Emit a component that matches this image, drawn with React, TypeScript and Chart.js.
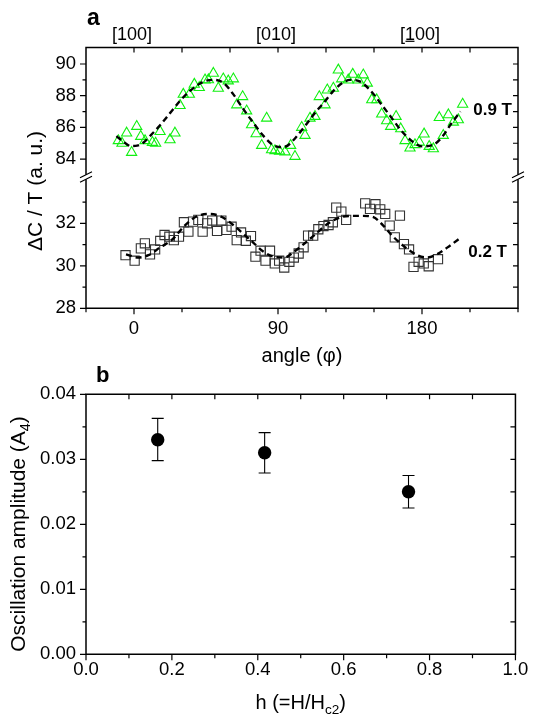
import React, { useEffect, useRef } from 'react';
import { Chart, registerables } from 'chart.js';

Chart.register(...registerables);

const FONT = "'Liberation Sans', Arial, Helvetica, sans-serif";
Chart.defaults.font.family = FONT;
Chart.defaults.color = '#000';

// ---------- Panel a data ----------
const ANGLE_09 = [-9.8, -7.5, -4.6, -1.5, 1.7, 4.2, 6.9, 11.5, 13.5, 16.3, 22.5, 25.6, 28.8, 30.8, 34.6, 37.7, 40.8, 44.4, 46.5, 49.6, 52.7, 55.8, 58.9, 62.1, 64.2, 67.9, 70.4, 73.5, 76.3, 79.8, 82.9, 86.0, 88.1, 91.0, 94.4, 97.9, 100.6, 104.8, 106.9, 110.0, 113.1, 115.8, 119.4, 120.8, 124.6, 127.7, 129.8, 133.9, 136.7, 140.2, 143.3, 145.8, 148.6, 151.7, 154.8, 157.9, 160.4, 163.8, 166.7, 169.4, 172.5, 175.6, 178.3, 181.3, 184.5, 187.1, 190.8, 193.3, 196.5, 199.6, 202.7, 205.4];
const DC_09 = [85.16, 85.0, 85.64, 84.42, 86.06, 85.43, 85.16, 85.05, 85.0, 85.74, 85.22, 85.64, 87.38, 88.09, 88.09, 88.72, 88.51, 88.99, 89.0, 89.41, 88.47, 89.06, 88.93, 89.06, 87.42, 87.94, 87.04, 86.16, 85.6, 84.86, 86.58, 84.59, 84.53, 84.5, 84.45, 84.86, 84.17, 86.0, 85.49, 86.58, 86.69, 87.94, 87.42, 88.36, 88.47, 89.62, 89.06, 88.99, 89.35, 88.99, 89.31, 88.79, 87.74, 87.74, 86.84, 86.42, 86.06, 86.69, 85.91, 85.16, 84.7, 84.91, 85.07, 85.58, 84.8, 84.65, 86.62, 85.49, 86.79, 86.33, 86.48, 87.46];

const ANGLE_02 = [-5.3, 0.4, 4.3, 6.8, 10.0, 13.2, 16.4, 19.1, 22.1, 24.9, 28.1, 31.2, 34.0, 36.9, 40.2, 42.9, 45.7, 48.9, 51.9, 54.6, 57.8, 61.0, 64.2, 66.9, 69.9, 73.1, 75.9, 79.1, 82.2, 85.0, 88.0, 90.7, 93.9, 97.1, 99.9, 102.9, 106.0, 108.8, 112.0, 115.2, 118.4, 121.6, 124.3, 126.4, 129.6, 132.6, 144.5, 147.5, 150.9, 153.9, 157.0, 159.8, 163.0, 166.2, 168.7, 171.9, 174.7, 177.9, 181.1, 184.2, 190.0];
const DC_02 = [30.5, 30.24, 30.82, 31.06, 30.54, 30.77, 31.17, 31.45, 31.37, 31.21, 31.37, 32.05, 31.61, 32.08, 32.16, 31.61, 32.0, 32.13, 31.64, 32.13, 31.69, 31.84, 31.21, 31.57, 31.18, 31.4, 30.43, 30.71, 30.24, 30.71, 30.11, 30.24, 29.92, 30.19, 30.39, 30.58, 30.87, 31.42, 31.42, 31.72, 31.87, 31.92, 32.05, 32.74, 32.55, 32.16, 32.94, 32.68, 32.9, 32.66, 32.44, 31.89, 31.34, 32.36, 31.02, 30.77, 29.95, 30.19, 30.11, 29.98, 30.31];

const FIT_ANGLE_09 = [-11, -6, -2, 2, 6, 10, 16, 22.5, 29, 35, 41, 46, 50, 56, 62, 68, 74.5, 81, 87, 92, 96, 101, 107, 113, 119, 125.5, 131, 135, 141, 147.5, 155, 161, 167, 173.5, 180, 187, 193, 198, 204];
const FIT_09 = [85.45, 85.05, 84.82, 84.85, 85.05, 85.45, 86.1, 86.9, 87.7, 88.3, 88.75, 88.97, 89.0, 88.8, 88.1, 87.2, 86.3, 85.45, 84.88, 84.75, 84.85, 85.35, 86.1, 86.9, 87.6, 88.4, 88.85, 89.0, 88.9, 88.36, 87.4, 86.6, 85.8, 85.15, 84.8, 84.9, 85.45, 86.2, 87.0];

const FIT_ANGLE_02 = [-5, 2.5, 9, 16.4, 24, 31, 38.7, 47, 54.6, 62, 68.4, 75, 81, 87.5, 94, 100, 106.7, 114, 121.5, 129, 136.4, 143, 149, 155.5, 162, 169, 177, 183, 189.5, 198, 204.4];
const FIT_02 = [30.54, 30.39, 30.5, 30.87, 31.24, 31.84, 32.31, 32.44, 32.31, 31.92, 31.5, 31.06, 30.66, 30.43, 30.39, 30.66, 31.06, 31.53, 32.0, 32.28, 32.35, 32.35, 32.31, 31.92, 31.37, 30.9, 30.5, 30.39, 30.55, 30.98, 31.34];

const X_TICKS_A = [0, 90, 180];
const X_MINOR_A = [-30, 30, 60, 120, 150, 210, 240];
const X_TOP_TICKS_A = [0, 30, 60, 90, 120, 150, 180, 210];
const TOP_LABEL_ANGLES = [0, 90, 180];
const TOP_LABELS = ['[100]', '[010]', '[100]'];
const Y_TOP_MAJOR = [84, 86, 88, 90];
const Y_TOP_MINOR = [85, 87, 89];
const Y_BOT_MAJOR = [28, 30, 32];
const Y_BOT_MINOR = [29, 31, 33];

// ---------- Panel b data ----------
const H_VALUES = [0.167, 0.416, 0.751];
const AMP = [0.033, 0.031, 0.025];
const AMP_LOW = [0.0298, 0.0279, 0.0225];
const AMP_HIGH = [0.0363, 0.0341, 0.0275];
const X_TICKS_B = [0, 0.2, 0.4, 0.6, 0.8, 1.0];
const X_MINOR_B = [0.1, 0.3, 0.5, 0.7, 0.9];
const Y_TICKS_B = [0, 0.01, 0.02, 0.03, 0.04];
const Y_MINOR_B = [0.005, 0.015, 0.025, 0.035];

const pts = (xs: number[], ys: number[]) => xs.map((x, i) => ({ x, y: ys[i] }));

function vTicks(ctx: CanvasRenderingContext2D, scale: any, values: number[], x: number, len: number) {
  for (const v of values) {
    const y = scale.getPixelForValue(v);
    ctx.moveTo(x, y);
    ctx.lineTo(x + len, y);
  }
}
function hTicks(ctx: CanvasRenderingContext2D, scale: any, values: number[], y: number, len: number) {
  for (const v of values) {
    const x = scale.getPixelForValue(v);
    ctx.moveTo(x, y);
    ctx.lineTo(x, y + len);
  }
}

type Part = { t: string; sub?: boolean };
function drawRich(ctx: CanvasRenderingContext2D, parts: Part[], tx: number, ty: number, size: number, rotate: boolean) {
  ctx.save();
  ctx.translate(tx, ty);
  if (rotate) ctx.rotate(-Math.PI / 2);
  const main = `${size}px ${FONT}`;
  const subf = `${size * 0.68}px ${FONT}`;
  let total = 0;
  const widths = parts.map((p) => {
    ctx.font = p.sub ? subf : main;
    const w = ctx.measureText(p.t).width;
    total += w;
    return w;
  });
  let x = -total / 2;
  ctx.textAlign = 'left';
  ctx.textBaseline = 'alphabetic';
  ctx.fillStyle = '#000';
  parts.forEach((p, i) => {
    ctx.font = p.sub ? subf : main;
    ctx.fillText(p.t, x, p.sub ? size * 0.25 : 0);
    x += widths[i];
  });
  ctx.restore();
}

const panelAPlugin = {
  id: 'panelA',
  afterDraw(chart: any) {
    const { ctx, chartArea: ca, scales } = chart;
    const x = scales.x;
    const yT = scales.yTop;
    const yB = scales.yBot;
    const breakY = (yT.bottom + yB.top) / 2;
    ctx.save();
    ctx.strokeStyle = '#000';
    ctx.lineWidth = 1.5;
    ctx.lineCap = 'square';
    ctx.beginPath();
    ctx.moveTo(ca.left, ca.top);
    ctx.lineTo(ca.right, ca.top);
    ctx.moveTo(ca.left, ca.bottom);
    ctx.lineTo(ca.right, ca.bottom);
    for (const xx of [ca.left, ca.right]) {
      ctx.moveTo(xx, ca.top);
      ctx.lineTo(xx, breakY - 3);
      ctx.moveTo(xx, breakY + 3);
      ctx.lineTo(xx, ca.bottom);
    }
    ctx.stroke();
    ctx.lineCap = 'butt';
    ctx.lineWidth = 1.2;
    ctx.beginPath();
    for (const xx of [ca.left, ca.right]) {
      for (const d of [-2.2, 2.2]) {
        ctx.moveTo(xx - 6, breakY + d + 3);
        ctx.lineTo(xx + 6, breakY + d - 3);
      }
    }
    ctx.stroke();
    ctx.lineWidth = 1.2;
    ctx.beginPath();
    vTicks(ctx, yT, Y_TOP_MAJOR, ca.left, -6);
    vTicks(ctx, yT, Y_TOP_MINOR, ca.left, -3.5);
    vTicks(ctx, yB, Y_BOT_MAJOR, ca.left, -6);
    vTicks(ctx, yB, Y_BOT_MINOR, ca.left, -3.5);
    vTicks(ctx, yT, [...Y_TOP_MAJOR, ...Y_TOP_MINOR], ca.right, -5);
    vTicks(ctx, yB, [30, 32, ...Y_BOT_MINOR], ca.right, -5);
    hTicks(ctx, x, X_TICKS_A, ca.bottom, 6);
    hTicks(ctx, x, X_MINOR_A, ca.bottom, 4);
    hTicks(ctx, x, X_TOP_TICKS_A, ca.top, 5);
    ctx.stroke();

    // top direction labels
    ctx.fillStyle = '#000';
    ctx.font = `18px ${FONT}`;
    ctx.textBaseline = 'alphabetic';
    ctx.textAlign = 'left';
    TOP_LABELS.forEach((lab, i) => {
      const cx = x.getPixelForValue(TOP_LABEL_ANGLES[i]) - 2;
      const w = ctx.measureText(lab).width;
      const sx = cx - w / 2;
      const by = 39.5;
      ctx.fillText(lab, sx, by);
      if (i === 2) {
        const wb = ctx.measureText('[').width;
        const w1 = ctx.measureText('1').width;
        ctx.beginPath();
        ctx.lineWidth = 1.2;
        ctx.moveTo(sx + wb + 0.5, by + 1.8);
        ctx.lineTo(sx + wb + w1 - 0.5, by + 1.8);
        ctx.stroke();
      }
    });

    // panel letter
    ctx.font = `bold 23px ${FONT}`;
    ctx.fillText('a', 87, 25);

    // field labels
    ctx.font = `bold 17px ${FONT}`;
    ctx.textAlign = 'right';
    ctx.textBaseline = 'middle';
    ctx.fillText('0.9 T', ca.right - 6, 110);
    ctx.fillText('0.2 T', ca.right - 11, 252);

    ctx.restore();

    drawRich(ctx, [{ t: '\u0394C / T (a. u.)' }], 42, 191, 21, true);
    drawRich(ctx, [{ t: 'angle (\u03c6)' }], (ca.left + ca.right) / 2, 361.5, 20, false);
  },
};

const panelBPlugin = {
  id: 'panelB',
  beforeDatasetsDraw(chart: any) {
    const { ctx, scales } = chart;
    const x = scales.x;
    const y = scales.y;
    ctx.save();
    ctx.strokeStyle = '#000';
    ctx.lineWidth = 1.1;
    ctx.beginPath();
    H_VALUES.forEach((h, i) => {
      const px = x.getPixelForValue(h);
      const y0 = y.getPixelForValue(AMP_LOW[i]);
      const y1 = y.getPixelForValue(AMP_HIGH[i]);
      ctx.moveTo(px, y0);
      ctx.lineTo(px, y1);
      ctx.moveTo(px - 6, y0);
      ctx.lineTo(px + 6, y0);
      ctx.moveTo(px - 6, y1);
      ctx.lineTo(px + 6, y1);
    });
    ctx.stroke();
    ctx.restore();
  },
  afterDraw(chart: any) {
    const { ctx, chartArea: ca, scales } = chart;
    const x = scales.x;
    const y = scales.y;
    ctx.save();
    ctx.strokeStyle = '#000';
    ctx.lineWidth = 1.5;
    ctx.lineCap = 'square';
    ctx.beginPath();
    ctx.rect(ca.left, ca.top, ca.right - ca.left, ca.bottom - ca.top);
    ctx.stroke();
    ctx.lineCap = 'butt';
    ctx.lineWidth = 1.2;
    ctx.beginPath();
    vTicks(ctx, y, Y_TICKS_B, ca.left, -6);
    vTicks(ctx, y, Y_MINOR_B, ca.left, -3.5);
    vTicks(ctx, y, [0.01, 0.02, 0.03, ...Y_MINOR_B], ca.right, -5);
    hTicks(ctx, x, X_TICKS_B, ca.bottom, 6);
    hTicks(ctx, x, X_MINOR_B, ca.bottom, 4);
    hTicks(ctx, x, [0.2, 0.4, 0.6, 0.8, ...X_MINOR_B], ca.top, 5);
    ctx.stroke();

    ctx.fillStyle = '#000';
    ctx.font = `bold 22px ${FONT}`;
    ctx.textAlign = 'left';
    ctx.textBaseline = 'alphabetic';
    ctx.fillText('b', 96, 19.7);
    ctx.restore();

    drawRich(
      ctx,
      [{ t: 'Oscillation amplitude (A' }, { t: '4', sub: true }, { t: ')' }],
      24.5,
      172,
      21,
      true
    );
    drawRich(ctx, [{ t: 'h (=H/H' }, { t: 'c2', sub: true }, { t: ')' }], (ca.left + ca.right) / 2, 346.5, 20, false);
  },
};

const H_A = 372;
const H_B = 357;

export default function App() {
  const refA = useRef<HTMLCanvasElement>(null);
  const refB = useRef<HTMLCanvasElement>(null);

  useEffect(() => {
    const tickFont = { size: 18.5, family: FONT };
    const chartA = new Chart(refA.current as HTMLCanvasElement, {
      type: 'scatter',
      data: {
        datasets: [
          {
            data: pts(FIT_ANGLE_09, FIT_09),
            yAxisID: 'yTop',
            showLine: true,
            borderColor: '#000',
            borderWidth: 2.4,
            borderDash: [6, 4],
            pointRadius: 0,
            cubicInterpolationMode: 'monotone',
          },
          {
            data: pts(FIT_ANGLE_02, FIT_02),
            yAxisID: 'yBot',
            showLine: true,
            borderColor: '#000',
            borderWidth: 2.4,
            borderDash: [6, 4],
            pointRadius: 0,
            cubicInterpolationMode: 'monotone',
          },
          {
            data: pts(ANGLE_09, DC_09),
            yAxisID: 'yTop',
            pointStyle: 'triangle',
            pointRadius: 5.9,
            borderColor: '#10f010',
            backgroundColor: 'rgba(0,0,0,0)',
            borderWidth: 1.1,
          },
          {
            data: pts(ANGLE_02, DC_02),
            yAxisID: 'yBot',
            pointStyle: 'rect',
            pointRadius: 6.5,
            borderColor: '#333',
            backgroundColor: 'rgba(0,0,0,0)',
            borderWidth: 1.1,
          },
        ],
      } as any,
      options: {
        animation: false,
        responsive: false,
        maintainAspectRatio: false,
        layout: { padding: { top: 47.5, right: 15, left: 0, bottom: 0 } },
        plugins: { legend: { display: false }, tooltip: { enabled: false } },
        scales: {
          x: {
            type: 'linear',
            position: 'bottom',
            min: -30,
            max: 240,
            afterBuildTicks: (s: any) => {
              s.ticks = X_TICKS_A.map((v) => ({ value: v }));
            },
            afterFit: (s: any) => {
              s.height = H_A - 308.3;
            },
            grid: { display: false, drawTicks: false },
            border: { display: false },
            ticks: { padding: 9.4, font: tickFont, color: '#000', maxRotation: 0 },
          },
          yBot: {
            type: 'linear',
            position: 'left',
            stack: 'a',
            stackWeight: 131.3,
            min: 28,
            max: 34.18,
            afterBuildTicks: (s: any) => {
              s.ticks = Y_BOT_MAJOR.map((v) => ({ value: v }));
            },
            afterFit: (s: any) => {
              s.width = 86;
            },
            grid: { display: false, drawTicks: false },
            border: { display: false },
            ticks: { padding: 10, font: tickFont, color: '#000' },
          },
          yTop: {
            type: 'linear',
            position: 'left',
            stack: 'a',
            stackWeight: 129.5,
            min: 82.87,
            max: 91.04,
            afterBuildTicks: (s: any) => {
              s.ticks = Y_TOP_MAJOR.map((v) => ({ value: v }));
            },
            afterFit: (s: any) => {
              s.width = 86;
            },
            grid: { display: false, drawTicks: false },
            border: { display: false },
            ticks: { padding: 10, font: tickFont, color: '#000' },
          },
        },
      } as any,
      plugins: [panelAPlugin],
    });

    const chartB = new Chart(refB.current as HTMLCanvasElement, {
      type: 'scatter',
      data: {
        datasets: [
          {
            data: pts(H_VALUES, AMP),
            pointStyle: 'circle',
            pointRadius: 6.7,
            backgroundColor: '#000',
            borderColor: '#000',
            borderWidth: 0,
          },
        ],
      } as any,
      options: {
        animation: false,
        responsive: false,
        maintainAspectRatio: false,
        layout: { padding: { top: 32.3, right: 14.3, left: 0, bottom: 0 } },
        plugins: { legend: { display: false }, tooltip: { enabled: false } },
        scales: {
          x: {
            type: 'linear',
            min: 0,
            max: 1,
            afterBuildTicks: (s: any) => {
              s.ticks = X_TICKS_B.map((v) => ({ value: v }));
            },
            afterFit: (s: any) => {
              s.height = H_B - 292.3;
            },
            grid: { display: false, drawTicks: false },
            border: { display: false },
            ticks: {
              padding: 4.7,
              font: tickFont,
              color: '#000',
              maxRotation: 0,
              callback: (v: any) => Number(v).toFixed(1),
            },
          },
          y: {
            type: 'linear',
            min: 0,
            max: 0.04,
            afterBuildTicks: (s: any) => {
              s.ticks = Y_TICKS_B.map((v) => ({ value: v }));
            },
            afterFit: (s: any) => {
              s.width = 86;
            },
            grid: { display: false, drawTicks: false },
            border: { display: false },
            ticks: {
              padding: 10,
              font: tickFont,
              color: '#000',
              callback: (v: any) => Number(v).toFixed(2),
            },
          },
        },
      } as any,
      plugins: [panelBPlugin],
    });

    return () => {
      chartA.destroy();
      chartB.destroy();
    };
  }, []);

  return (
    <div style={{ position: 'absolute', left: 0, top: 0, width: 533, height: 719, background: '#fff' }}>
      <canvas ref={refA} width={533} height={H_A} style={{ position: 'absolute', left: 0, top: 0 }} />
      <canvas ref={refB} width={533} height={H_B} style={{ position: 'absolute', left: 0, top: 362 }} />
    </div>
  );
}
